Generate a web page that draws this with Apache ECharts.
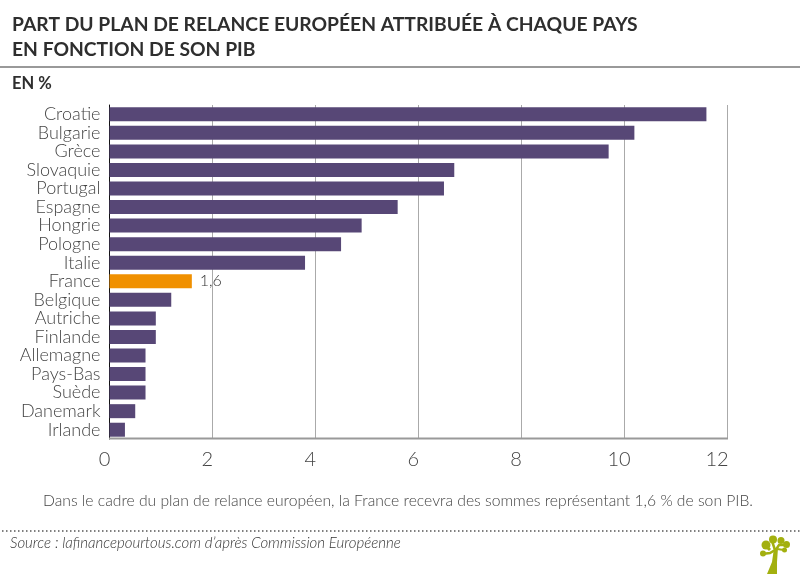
<!DOCTYPE html>
<html>
<head>
<meta charset="utf-8">
<title>Plan de relance</title>
<script src="https://cdn.jsdelivr.net/npm/echarts@6/dist/echarts.min.js"></script>
<style>
  html, body { margin: 0; padding: 0; background: #fff; }
  #chart { width: 800px; height: 574px; }
</style>
</head>
<body>
<div id="chart"></div>
<script>
var countries = ['Croatie', 'Bulgarie', 'Grèce', 'Slovaquie', 'Portugal', 'Espagne', 'Hongrie', 'Pologne', 'Italie',
    'France', 'Belgique', 'Autriche', 'Finlande', 'Allemagne', 'Pays-Bas', 'Suède', 'Danemark', 'Irlande'];
var shares = [11.6, 10.2, 9.7, 6.7, 6.5, 5.6, 4.9, 4.5, 3.8, 1.6, 1.2, 0.9, 0.9, 0.7, 0.7, 0.7, 0.5, 0.3];
var highlighted = 'France';

var fontName = 'Lato';
var purple = '#574776';
var orange = '#f09000';
var green = '#a3b00f';

var myChart = echarts.init(document.getElementById('chart'), null, { renderer: 'canvas' });

myChart.setOption({
    animation: false,
    backgroundColor: '#fff',
    textStyle: { fontFamily: fontName },
    title: [
        {
            text: 'PART DU PLAN DE RELANCE EUROPÉEN ATTRIBUÉE À CHAQUE PAYS\nEN FONCTION DE SON PIB',
            left: 12, top: 12, padding: 0,
            textStyle: { fontFamily: fontName, fontSize: 19.3, fontWeight: 700, color: '#2e2e2e', lineHeight: 25 }
        },
        {
            text: 'EN %',
            left: 12, top: 75, padding: 0,
            textStyle: { fontFamily: fontName, fontSize: 16.5, fontWeight: 700, color: '#2e2e2e' }
        },
        {
            text: 'Dans le cadre du plan de relance européen, la France recevra des sommes représentant 1,6 % de son PIB.',
            left: 43, top: 493, padding: 0,
            textStyle: { fontFamily: fontName, fontSize: 15.7, fontWeight: 300, color: '#444' }
        },
        {
            text: 'Source : lafinancepourtous.com d’après Commission Européenne',
            left: 10, top: 536, padding: 0,
            textStyle: { fontFamily: fontName, fontSize: 15, fontWeight: 300, fontStyle: 'italic', color: '#333' }
        }
    ],
    grid: { left: 109.5, right: 73, top: 105, bottom: 135, containLabel: false },
    xAxis: {
        type: 'value',
        min: 0, max: 12, interval: 2,
        axisLine: { show: false },
        axisTick: { show: false },
        splitLine: { show: true, lineStyle: { color: '#aaa', width: 1 } },
        axisLabel: {
            margin: 11,
            padding: [0, 10, 0, 0],
            fontFamily: fontName, fontSize: 20, fontWeight: 300, color: '#444',
            formatter: function (v) { return v === 12 ? '{last|12}' : String(v); },
            rich: { last: { padding: [0, 10, 0, 0], fontFamily: fontName, fontSize: 20, fontWeight: 300, color: '#444' } }
        }
    },
    yAxis: {
        type: 'category',
        data: countries,
        inverse: true,
        axisLine: { show: true, lineStyle: { color: '#111', width: 1 } },
        axisTick: { show: false },
        axisLabel: {
            interval: 0,
            margin: 9,
            fontFamily: fontName, fontSize: 18, fontWeight: 300, color: '#444'
        }
    },
    series: [{
        type: 'bar',
        barWidth: 14,
        data: shares.map(function (v, i) {
            var item = { value: v, itemStyle: { color: purple } };
            if (countries[i] === highlighted) {
                item.itemStyle = { color: orange };
                item.label = {
                    show: true, position: 'right', distance: 8,
                    formatter: String(v).replace('.', ','),
                    fontFamily: fontName, fontSize: 16, fontWeight: 300, color: '#333'
                };
            }
            return item;
        })
    }],
    graphic: [
        // filets et logo
        { type: 'line', shape: { x1: 0, y1: 67, x2: 800, y2: 67 }, style: { stroke: '#777', lineWidth: 1.5 } },
        { type: 'line', shape: { x1: 109, y1: 438.5, x2: 728, y2: 438.5 }, style: { stroke: '#999', lineWidth: 2 }, z: 5 },
        { type: 'line', shape: { x1: 2, y1: 531, x2: 800, y2: 531 }, style: { stroke: '#555', lineWidth: 1.5, lineDash: [1.5, 2.5] } },
        { type: 'polygon', shape: { points: [[767, 574], [772, 562], [774, 548], [778, 548], [777, 562], [777, 574]] }, style: { fill: green } },
        { type: 'polyline', shape: { points: [[762, 554], [770, 553], [775, 550], [772, 541]] }, style: { stroke: green, lineWidth: 2.5, fill: 'none' } },
        { type: 'polyline', shape: { points: [[775, 551], [779, 545], [786, 545]] }, style: { stroke: green, lineWidth: 2.5, fill: 'none' } },
        { type: 'polyline', shape: { points: [[770, 550], [766, 546]] }, style: { stroke: green, lineWidth: 3, fill: 'none' } },
        { type: 'polyline', shape: { points: [[777, 549], [784, 550]] }, style: { stroke: green, lineWidth: 2, fill: 'none' } },
        { type: 'circle', shape: { cx: 763, cy: 553.5, r: 3 }, style: { fill: green } },
        { type: 'circle', shape: { cx: 766, cy: 545, r: 4.5 }, style: { fill: green } },
        { type: 'circle', shape: { cx: 773, cy: 539.5, r: 4 }, style: { fill: green } },
        { type: 'circle', shape: { cx: 781, cy: 540.5, r: 3.5 }, style: { fill: green } },
        { type: 'circle', shape: { cx: 786.5, cy: 544.5, r: 3.5 }, style: { fill: green } },
        { type: 'circle', shape: { cx: 784.5, cy: 550, r: 2.5 }, style: { fill: green } }
    ]
});
</script>
</body>
</html>
